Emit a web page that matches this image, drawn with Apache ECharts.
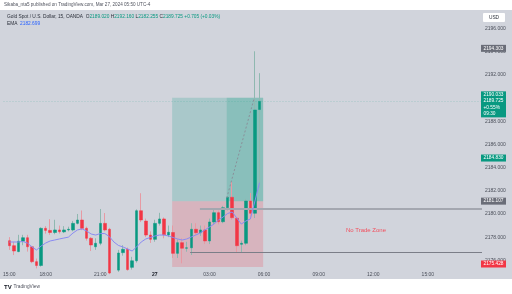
<!DOCTYPE html>
<html><head><meta charset="utf-8">
<script src="https://cdn.jsdelivr.net/npm/echarts@6/dist/echarts.min.js"></script>
<style>html,body{margin:0;padding:0;background:#fff}#c{width:512px;height:294px}</style>
</head><body><div id="c"></div>
<script>
// bar number of the first visible candle (00:00 on Mar 27 = bar 0, 15-minute bars)
const firstBar = -32;
const opens = [2177.69,2177.26,2176.75,2177.65,2177.95,2177.17,2175.88,2175.55,2178.76,2178.58,2178.40,2178.62,2178.45,2178.62,2178.62,2179.19,2179.48,2178.76,2177.90,2177.17,2177.47,2179.19,2178.68,2174.90,2175.15,2176.66,2176.95,2175.39,2175.96,2180.28,2179.39,2178.18,2177.81,2179.19,2179.57,2178.18,2178.40,2176.60,2177.52,2177.04,2177.08,2178.68,2178.38,2178.62,2177.67,2179.31,2180.11,2179.33,2180.54,2181.44,2179.63,2177.38,2177.47,2181.12,2180.06,2189.020];
const highs = [2178.00,2177.60,2178.20,2178.20,2178.20,2177.25,2176.15,2178.85,2178.95,2179.55,2179.50,2179.00,2178.95,2178.90,2179.40,2180.00,2180.30,2178.90,2178.00,2177.90,2180.43,2180.08,2178.80,2175.30,2176.90,2177.30,2177.10,2176.30,2180.40,2181.79,2179.60,2178.50,2179.50,2180.10,2179.70,2179.00,2179.00,2177.80,2177.90,2177.60,2179.20,2179.20,2179.00,2179.00,2179.60,2180.35,2180.30,2180.70,2181.50,2182.79,2179.70,2177.70,2181.30,2181.81,2194.05,2192.160];
const lows = [2176.90,2176.45,2176.70,2177.30,2176.75,2175.75,2175.30,2175.45,2178.30,2178.20,2178.25,2178.30,2178.35,2178.50,2178.50,2179.10,2178.60,2177.70,2176.80,2176.90,2177.30,2178.50,2174.80,2174.70,2175.00,2176.40,2175.10,2175.20,2175.80,2179.30,2178.00,2177.50,2177.60,2179.00,2177.90,2178.00,2176.20,2176.20,2175.74,2176.74,2176.46,2178.20,2178.10,2177.40,2177.40,2179.10,2179.10,2179.20,2180.30,2179.50,2176.63,2176.63,2177.30,2179.65,2179.65,2182.255];
const closes = [2177.26,2176.80,2177.65,2177.95,2177.17,2175.88,2175.55,2178.76,2178.58,2178.40,2178.62,2178.47,2178.62,2178.68,2179.19,2179.48,2178.76,2177.90,2177.32,2177.47,2179.19,2178.62,2174.90,2175.10,2176.63,2176.95,2175.20,2175.96,2180.28,2179.48,2178.18,2177.81,2179.19,2179.57,2178.20,2178.42,2176.60,2177.52,2177.04,2177.08,2178.68,2178.38,2178.62,2177.67,2179.31,2180.11,2179.33,2180.54,2181.44,2179.68,2177.26,2177.47,2181.12,2180.06,2188.98,2189.725];
const emaValues = [2177.58,2177.58,2177.58,2177.62,2177.49,2177.15,2176.89,2177.23,2177.49,2177.67,2177.75,2177.84,2177.92,2178.00,2178.35,2178.62,2178.71,2178.53,2178.27,2178.18,2178.31,2178.31,2178.05,2177.58,2177.28,2177.15,2176.98,2176.80,2177.15,2177.58,2177.84,2177.97,2178.10,2178.18,2178.18,2178.10,2177.97,2177.84,2177.75,2177.84,2178.01,2178.18,2178.36,2178.62,2178.87,2179.13,2179.48,2179.74,2180.04,2180.17,2179.65,2179.13,2179.39,2179.57,2181.12,2182.699];

const timeTickBars = [-32,-24,-12,0,12,24,36,48,60];
const timeTickLabels = ['15:00','18:00','21:00','27','03:00','06:00','09:00','12:00','15:00'];
const priceTicks = [2176,2178,2180,2182,2184,2186,2188,2190,2192,2194,2196];

// long position tool: bars [start, fill, end], prices [stop, entry, target]
const positionBars = [3.8, 15.8, 23.8];
const positionPrices = [2175.428, 2181.107, 2190.033];
// horizontal rays: start bar and price
const rayBars = [9.9, 7.75];
const rayPrices = [2180.45, 2176.66];
// dashed trade path
const pathBars = [15.8, 21.84];
const pathPrices = [2181.38, 2190.02];
const zoneLabelBar = 46.4, zoneLabelPrice = 2178.62;

const tagPrices = [2194.303, 2184.830, 2181.107, 2175.428];
const tagColors = ['#6a6d78', '#089981', '#6a6d78', '#f23645'];
const lastLabelLines = ['2190.033', '2189.725', '+0.55%', '09:30'];
const lastPrice = 2189.725;

const xMin = -33.27, xMax = 71.9;
const yMin = 2175.334, yMax = 2197.615;
const FONT = 'Liberation Sans';

const chart = echarts.init(document.getElementById('c'), null, {renderer: 'canvas', width: 512, height: 294});
const bars = opens.map((_, k) => firstBar + k);
const wickData = bars.map((b, k) => [b, opens[k], closes[k], lows[k], highs[k]]);
const bodyData = bars.map((b, k) => [b, opens[k], closes[k], Math.min(opens[k], closes[k]), Math.max(opens[k], closes[k])]);
const emaData = bars.map((b, k) => [b, emaValues[k]]);

const option = {
  backgroundColor: '#ffffff',
  animation: false,
  grid: {left: 0, right: 30, top: 10, bottom: 26},
  xAxis: {
    type: 'value', min: xMin, max: xMax,
    axisLine: {show: false}, axisTick: {show: false}, splitLine: {show: false},
    axisLabel: {
      customValues: timeTickBars, fontSize: 5, color: '#4a4e59', margin: 4, fontFamily: FONT,
      hideOverlap: false,
      formatter: v => { const t = timeTickLabels[timeTickBars.indexOf(v)]; return t === '27' ? '{d|27}' : t; },
      rich: {d: {fontWeight: 'bold', fontSize: 5, color: '#131722', fontFamily: FONT}}
    }
  },
  yAxis: {
    type: 'value', position: 'right', min: yMin, max: yMax,
    axisLine: {show: false}, axisTick: {show: false}, splitLine: {show: false},
    axisLabel: {customValues: priceTicks, formatter: v => v.toFixed(3), fontSize: 5, color: '#4a4e59', margin: 3, fontFamily: FONT}
  },
  series: [
    {
      type: 'candlestick', data: wickData, barWidth: 1, z: 3,
      itemStyle: {color: '#8fb8b0', color0: '#e79aa3', borderColor: '#8fb8b0', borderColor0: '#e79aa3', borderWidth: 1},
      markArea: {
        silent: true,
        data: [
          [{coord: [positionBars[0], positionPrices[1]], itemStyle: {color: 'rgba(8,153,129,0.2)'}}, {coord: [positionBars[2], positionPrices[2]]}],
          [{coord: [positionBars[1], positionPrices[1]], itemStyle: {color: 'rgba(8,153,129,0.2)'}}, {coord: [positionBars[2], positionPrices[2]]}],
          [{coord: [positionBars[0], positionPrices[0]], itemStyle: {color: 'rgba(242,54,69,0.2)'}}, {coord: [positionBars[2], positionPrices[1]]}]
        ]
      },
      markLine: {
        silent: true, symbol: ['none', 'none'], label: {show: false}, animation: false,
        data: [
          [{coord: [xMin, lastPrice], lineStyle: {color: 'rgba(8,153,129,0.22)', width: 1, type: [1, 2]}}, {coord: [xMax, lastPrice]}],
          [{coord: [rayBars[0], rayPrices[0]], lineStyle: {color: '#a4a7b0', width: 2, type: 'solid'}}, {coord: [xMax, rayPrices[0]]}],
          [{coord: [rayBars[1], rayPrices[1]], lineStyle: {color: '#7b7e88', width: 1, type: 'solid'}}, {coord: [xMax, rayPrices[1]]}],
          [{coord: [pathBars[0], pathPrices[0]], lineStyle: {color: '#8a909a', width: 1, type: [2, 2]}}, {coord: [pathBars[1], pathPrices[1]]}]
        ]
      },
      markPoint: {
        silent: true, symbol: 'circle', symbolSize: 0,
        data: [{coord: [zoneLabelBar, zoneLabelPrice],
          label: {show: true, position: 'inside', formatter: 'No Trade Zone', color: '#f2505e', fontSize: 6, fontFamily: FONT}}]
      }
    },
    {
      type: 'candlestick', data: bodyData, barWidth: 3, z: 4,
      itemStyle: {color: '#089981', color0: '#f23645', borderColor: '#089981', borderColor0: '#f23645', borderWidth: 0.5}
    },
    {
      type: 'line', data: emaData, showSymbol: false, z: 5,
      lineStyle: {color: '#8b8bf2', width: 1}
    }
  ]
};
chart.setOption(option);

const yPix = p => chart.convertToPixel({yAxisIndex: 0}, p);
const g = [];
g.push({type: 'rect', shape: {x: 0, y: 10, width: 512, height: 269}, style: {fill: '#d1d4dc'}, z: -10, silent: true});
g.push({type: 'text', x: 4, y: 5, z: 50, style: {text: 'Sikaba_nta5 published on TradingView.com, Mar 27, 2024 05:50 UTC-4', fontSize: 4.6, fontFamily: FONT, fill: '#50535e', verticalAlign: 'middle'}});
g.push({type: 'text', x: 7, y: 16.5, z: 50, style: {
  text: '{t|Gold Spot / U.S. Dollar, 15, OANDA}  {l|O}{v|2189.020} {l|H}{v|2192.160} {l|L}{v|2182.255} {l|C}{v|2189.725} {v|+0.705 (+0.03%)}',
  fontSize: 4.8, fontFamily: FONT, verticalAlign: 'middle',
  rich: {t: {fill: '#2a2e39', fontSize: 4.8, fontFamily: FONT}, l: {fill: '#2a2e39', fontSize: 4.8, fontFamily: FONT}, v: {fill: '#089981', fontSize: 4.8, fontFamily: FONT}}}});
g.push({type: 'text', x: 7, y: 24, z: 50, style: {
  text: '{t|EMA}  {v|2182.699}', fontSize: 4.8, fontFamily: FONT, verticalAlign: 'middle',
  rich: {t: {fill: '#2a2e39', fontSize: 4.8, fontFamily: FONT}, v: {fill: '#2962ff', fontSize: 4.8, fontFamily: FONT}}}});
// currency box
g.push({type: 'rect', z: 50, shape: {x: 483, y: 13, width: 22, height: 9, r: 1}, style: {fill: '#ffffff'}});
g.push({type: 'text', z: 51, x: 494, y: 17.5, style: {text: 'USD', fontSize: 4.8, fontFamily: FONT, fill: '#2a2e39', align: 'center', verticalAlign: 'middle'}});
// price tags on the axis
const paneBottom = yPix(yMin);
tagPrices.forEach((p, k) => {
  let cy = yPix(p);
  cy = Math.min(cy, paneBottom - 4);
  g.push({type: 'rect', z: 60, shape: {x: 481, y: cy - 3.5, width: 25, height: 7}, style: {fill: tagColors[k]}});
  g.push({type: 'text', z: 61, x: 483.5, y: cy, style: {text: p.toFixed(3), fontSize: 4.8, fontFamily: FONT, fill: '#ffffff', verticalAlign: 'middle'}});
});
// stacked last price label
const ly = yPix(lastPrice);
g.push({type: 'rect', z: 60, shape: {x: 481, y: ly - 10, width: 25, height: 26}, style: {fill: '#089981'}});
lastLabelLines.forEach((t, k) => {
  g.push({type: 'text', z: 61, x: 483.5, y: ly - 6.5 + k * 6.2, style: {text: t, fontSize: 4.8, fontFamily: FONT, fill: '#ffffff', verticalAlign: 'middle'}});
});
// logo
g.push({type: 'text', z: 50, x: 4, y: 287, style: {text: 'TV', fontSize: 6, fontWeight: 'bold', fontFamily: FONT, fill: '#131722', verticalAlign: 'middle'}});
g.push({type: 'text', z: 50, x: 13.5, y: 287, style: {text: 'TradingView', fontSize: 4.8, fontFamily: FONT, fill: '#50535e', verticalAlign: 'middle'}});
chart.setOption({graphic: g});
</script>
</body></html>
